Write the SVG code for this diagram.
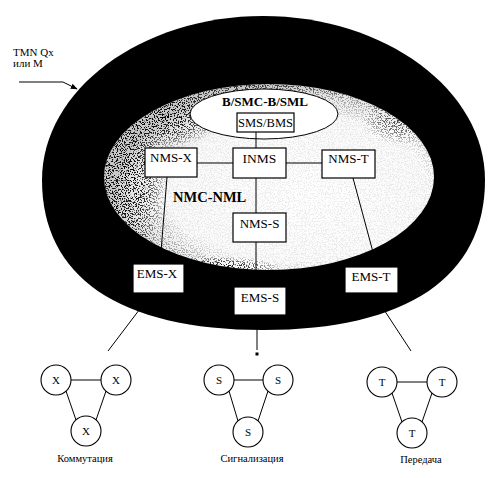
<svg xmlns="http://www.w3.org/2000/svg" width="492" height="478" viewBox="0 0 492 478">
<defs>
<radialGradient id="nmlFill" cx="0.62" cy="0.6" r="0.6">
<stop offset="0" stop-color="#ffffff"/>
<stop offset="0.7" stop-color="#fafafa"/>
<stop offset="0.9" stop-color="#e6e6e6"/>
<stop offset="1" stop-color="#c8c8c8"/>
</radialGradient>
<radialGradient id="edgeMask" cx="0.58" cy="0.56" r="0.56">
<stop offset="0" stop-color="#111"/>
<stop offset="0.7" stop-color="#111"/>
<stop offset="0.9" stop-color="#555"/>
<stop offset="1" stop-color="#bbb"/>
</radialGradient>
<radialGradient id="patch">
<stop offset="0" stop-color="#fff" stop-opacity="1"/>
<stop offset="0.5" stop-color="#fff" stop-opacity="0.7"/>
<stop offset="1" stop-color="#fff" stop-opacity="0"/>
</radialGradient>
<mask id="densMask" maskUnits="userSpaceOnUse" x="100" y="80" width="340" height="195">
<ellipse cx="269" cy="177" rx="165" ry="93" fill="url(#edgeMask)"/>
<ellipse cx="128" cy="180" rx="40" ry="85" fill="url(#patch)"/>
<ellipse cx="165" cy="118" rx="55" ry="30" fill="url(#patch)"/>
<ellipse cx="212" cy="268" rx="70" ry="12" fill="url(#patch)"/>
<ellipse cx="400" cy="120" rx="40" ry="25" fill="url(#patch)" opacity="0.6"/>
</mask>
<clipPath id="nmlClip"><ellipse cx="269" cy="177" rx="165" ry="93"/></clipPath>
<filter id="speckle" filterUnits="userSpaceOnUse" x="100" y="80" width="340" height="195">
<feTurbulence type="fractalNoise" baseFrequency="0.75" numOctaves="2" seed="7" result="n"/>
<feColorMatrix in="n" type="matrix" values="0 0 0 0 0  0 0 0 0 0  0 0 0 0 0  12 0 0 0 -6.1"/>
</filter>
<marker id="arr" viewBox="0 0 10 10" refX="9" refY="5" markerWidth="7" markerHeight="7" orient="auto">
<path d="M0,1 L10,5 L0,9 z" fill="#000"/>
</marker>
<style>
text{font-family:"Liberation Serif","DejaVu Serif",serif;fill:#000}
.box{fill:#fff;stroke:#000;stroke-width:1.2}
.lbl{font-size:13px;text-anchor:middle}
.big{font-weight:bold}
.c{fill:#fff;stroke:#000;stroke-width:1.1}
.cl{font-size:11px;text-anchor:middle}
.cap{font-size:10.5px;text-anchor:middle}
.ln{stroke:#000;stroke-width:1;fill:none}
</style>
</defs>
<rect width="492" height="478" fill="#fff"/>
<g font-family="Liberation Serif, DejaVu Serif, serif">
<g id="tmn-ellipse">
<path d="M42,180 C42,90 141,16 263,16 C385,16 485,90 485,180 C485,277 407,330 263,330 C119,330 42,277 42,180 Z" fill="#000"/>
</g>
<g id="nmc-ellipse">
<ellipse cx="269" cy="177" rx="165" ry="93" fill="url(#nmlFill)"/>
<g clip-path="url(#nmlClip)" mask="url(#densMask)">
<rect x="100" y="80" width="340" height="195" filter="url(#speckle)"/>
</g>
<text class="big" x="173" y="202" style="font-size:14.5px">NMC-NML</text>
</g>
<g id="bsmc-ellipse">
<ellipse cx="264" cy="114" rx="74" ry="25" fill="#fff" stroke="#000" stroke-width="1"/>
<text class="big" x="265" y="106" text-anchor="middle" style="font-size:13px">B/SMC-B/SML</text>
</g>
<g id="tmn-label">
<text x="13" y="56" style="font-size:11px">TMN Qx</text>
<text x="13" y="67" style="font-size:11px">или M</text>
</g>
<g id="connectors">
<polyline class="ln" points="19,82 63,82 77,89" marker-end="url(#arr)"/>
<line class="ln" x1="256" y1="132" x2="256" y2="148"/>
<line class="ln" x1="197" y1="163" x2="233" y2="163"/>
<line class="ln" x1="286" y1="163" x2="322" y2="163"/>
<line class="ln" x1="256" y1="178" x2="256" y2="213"/>
<line class="ln" x1="167" y1="177" x2="160" y2="264"/>
<line class="ln" x1="353" y1="178" x2="377" y2="267"/>
<line class="ln" x1="256" y1="242" x2="256" y2="287"/>
<line class="ln" x1="152" y1="293" x2="108" y2="351"/>
<line class="ln" x1="373" y1="293" x2="411" y2="351"/>
<line class="ln" x1="257" y1="315" x2="257" y2="350"/>
<rect x="255.5" y="352.5" width="3" height="3" fill="#000"/>
<line class="ln" x1="71" y1="380" x2="101" y2="380"/>
<line class="ln" x1="66" y1="391" x2="76" y2="420"/>
<line class="ln" x1="106" y1="391" x2="96" y2="420"/>
<line class="ln" x1="234" y1="380" x2="263" y2="380"/>
<line class="ln" x1="229" y1="391" x2="238" y2="421"/>
<line class="ln" x1="268" y1="391" x2="258" y2="421"/>
<line class="ln" x1="397" y1="382" x2="427" y2="382"/>
<line class="ln" x1="392" y1="393" x2="402" y2="422"/>
<line class="ln" x1="432" y1="393" x2="422" y2="422"/>
</g>
<g id="sms-bms"><rect class="box" x="237" y="113" width="57" height="19"/><text class="lbl" x="265.5" y="127" style="font-size:12.5px">SMS/BMS</text></g>
<g id="inms"><rect class="box" x="233" y="148" width="53" height="30"/><text class="lbl" x="259.5" y="163" style="font-size:13.5px">INMS</text></g>
<g id="nms-x"><rect class="box" x="145" y="148" width="52" height="29"/><text class="lbl" x="171" y="162">NMS-X</text></g>
<g id="nms-t"><rect class="box" x="322" y="150" width="53" height="28"/><text class="lbl" x="348.5" y="163">NMS-T</text></g>
<g id="nms-s"><rect class="box" x="233" y="213" width="53" height="29"/><text class="lbl" x="259.5" y="228">NMS-S</text></g>
<g id="ems-x"><rect class="box" x="133" y="264" width="51" height="29"/><text class="lbl" x="157" y="278">EMS-X</text></g>
<g id="ems-s"><rect class="box" x="234" y="287" width="52" height="28"/><text class="lbl" x="260" y="302">EMS-S</text></g>
<g id="ems-t"><rect class="box" x="345" y="267" width="53" height="26"/><text class="lbl" x="371" y="281">EMS-T</text></g>
<g id="x1"><circle class="c" cx="56" cy="380" r="15"/><text class="cl" x="56" y="384">X</text></g>
<g id="x2"><circle class="c" cx="116" cy="380" r="15"/><text class="cl" x="116" y="384">X</text></g>
<g id="x3"><circle class="c" cx="86" cy="431" r="15"/><text class="cl" x="86" y="435">X</text></g>
<g id="s1"><circle class="c" cx="219" cy="380" r="15"/><text class="cl" x="219" y="384">S</text></g>
<g id="s2"><circle class="c" cx="278" cy="380" r="15"/><text class="cl" x="278" y="384">S</text></g>
<g id="s3"><circle class="c" cx="248" cy="432" r="15"/><text class="cl" x="248" y="436">S</text></g>
<g id="t1"><circle class="c" cx="382" cy="382" r="15"/><text class="cl" x="382" y="386">T</text></g>
<g id="t2"><circle class="c" cx="442" cy="382" r="15"/><text class="cl" x="442" y="386">T</text></g>
<g id="t3"><circle class="c" cx="412" cy="433" r="15"/><text class="cl" x="412" y="437">T</text></g>
<g id="captions">
<text class="cap" x="85" y="462">Коммутация</text>
<text class="cap" x="252" y="462">Сигнализация</text>
<text class="cap" x="421" y="463">Передача</text>
</g>
</g>
</svg>
